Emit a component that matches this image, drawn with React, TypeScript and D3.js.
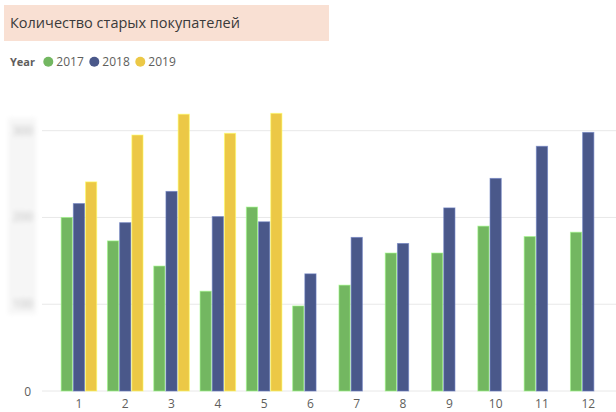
import React from 'react';
import * as d3 from 'd3';

const months = ['1', '2', '3', '4', '5', '6', '7', '8', '9', '10', '11', '12'];
const years = ['2017', '2018', '2019'];
const values2017 = [200, 173, 144, 115, 212, 98, 122, 159, 159, 190, 178, 183];
const values2018 = [216, 194, 230, 201, 195, 135, 177, 170, 211, 245, 282, 298];
const values2019: (number | null)[] = [241, 295, 319, 297, 320, null, null, null, null, null, null, null];
const yTicks = [100, 200, 300];
const colors = ['#73B761', '#4A588A', '#ECC846'];
const title = 'Количество старых покупателей';
const legendTitle = 'Year';

const W = 616;
const H = 412;
const FONT = "'Open Sans', 'Noto Sans', sans-serif";

export default function App() {
  const series = [values2017, values2018, values2019];
  const x0 = d3.scaleBand<string>().domain(months).range([55.8, 611.4]).paddingInner(0.21).paddingOuter(0.105);
  const x1 = d3.scaleBand<string>().domain(years).range([0, x0.bandwidth()]);
  const y = d3.scaleLinear().domain([0, 300]).range([391, 130.7]);

  const legendX = [48.3, 94.3, 140.3];

  return (
    <svg width={W} height={H} style={{ position: 'absolute', left: 0, top: 0, background: '#fff' }} fontFamily={FONT}>
      <defs>
        <filter id="blur" x="-20%" y="-20%" width="140%" height="140%">
          <feGaussianBlur stdDeviation="2.5" />
        </filter>
      </defs>
      {/* title */}
      <rect x={4} y={5} width={325} height={36} fill="#F9E0D3" />
      <text x={10} y={28} fontSize={14.5} fill="#3A3A3A">{title}</text>

      {/* legend */}
      <text x={10} y={66} fontSize={11} fontWeight="bold" fill="#605E5C">{legendTitle}</text>
      {years.map((yr, i) => (
        <g key={yr}>
          <circle cx={legendX[i]} cy={61.7} r={5} fill={colors[i]} />
          <text x={legendX[i] + 8} y={66} fontSize={12} fill="#605E5C">{yr}</text>
        </g>
      ))}

      {/* gridlines */}
      {yTicks.map((t) => (
        <line key={t} x1={42} x2={616} y1={y(t)} y2={y(t)} stroke="#E8E8E8" strokeWidth={1} />
      ))}
      <line x1={42} x2={616} y1={y(0)} y2={y(0)} stroke="#E8E8E8" strokeWidth={1} />

      {/* blurred y labels */}
      <g filter="url(#blur)">
        <rect x={8} y={118} width={28} height={196} fill="#F6F6F6" />
        {yTicks.map((t) => (
          <text key={t} x={33} y={y(t) + 4} fontSize={12} textAnchor="end" fill="#B8B8B8">{t}</text>
        ))}
      </g>
      <text x={31} y={y(0) + 4.5} fontSize={12} textAnchor="end" fill="#605E5C">0</text>

      {/* bars */}
      {months.map((m, mi) => (
        <g key={m} transform={`translate(${x0(m)},0)`}>
          {series.map((s, si) => {
            const v = s[mi];
            if (v == null) return null;
            const c = colors[si];
            return (
              <rect
                key={si}
                x={(x1(years[si]) as number) + 0.5}
                y={y(v)}
                width={x1.bandwidth() - 1}
                height={y(0) - y(v)}
                fill={c}
                stroke={d3.color(c)!.brighter(0.9).formatHex()}
                strokeWidth={1}
                strokeOpacity={0.6}
              />
            );
          })}
        </g>
      ))}

      {/* x labels */}
      {months.map((m) => (
        <text key={m} x={(x0(m) as number) + x0.bandwidth() / 2} y={408} fontSize={12} textAnchor="middle" fill="#605E5C">{m}</text>
      ))}
    </svg>
  );
}
